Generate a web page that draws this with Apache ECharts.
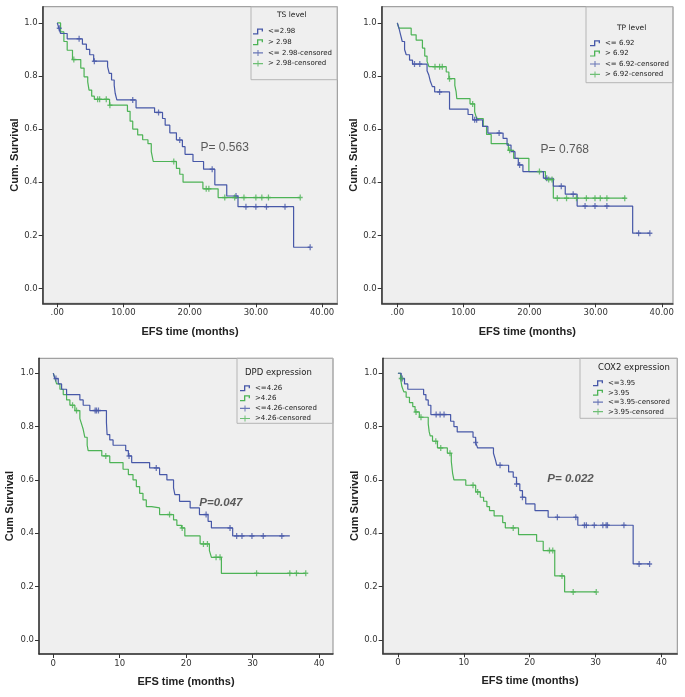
<!DOCTYPE html>
<html><head><meta charset="utf-8">
<script src="https://cdn.jsdelivr.net/npm/echarts@6/dist/echarts.min.js"></script>
<style>html,body{margin:0;padding:0;background:#fff}#c{width:685px;height:697px}</style>
</head><body><div id="c"></div>
<script>
// ---------- tick values ----------
const xTicks = [0, 10, 20, 30, 40];
const yTicks = [0, 0.2, 0.4, 0.6, 0.8, 1.0];

// ---------- Panel 1: TS level ----------
const tsLowSteps = [[0,1.0],[0.25,0.98],[0.5,0.96],[1.5,0.94],[3.8,0.92],[4.4,0.90],[4.9,0.88],[5.5,0.856],[7.6,0.835],[7.85,0.81],[8.2,0.785],[8.6,0.765],[8.75,0.735],[9.0,0.71],[11.9,0.68],[14.7,0.663],[15.9,0.64],[16.3,0.615],[17.0,0.586],[18.0,0.559],[18.9,0.534],[19.3,0.505],[20.5,0.478],[22.1,0.449],[23.8,0.39],[25.6,0.348],[27.3,0.308],[35.7,0.155],[38.2,0.155]];
const tsHighSteps = [[0,1.0],[0.5,0.966],[1.0,0.93],[1.5,0.897],[2.3,0.862],[3.55,0.83],[4.05,0.797],[4.6,0.778],[4.8,0.747],[5.2,0.724],[5.6,0.712],[7.9,0.69],[10.6,0.667],[11.0,0.63],[11.4,0.60],[12.15,0.578],[12.9,0.56],[13.7,0.545],[14.2,0.515],[14.5,0.478],[18.0,0.452],[18.5,0.43],[19.0,0.40],[22.0,0.375],[24.3,0.342],[36.7,0.342]];
const tsLowCens = [[0.3,0.98],[3.3,0.94],[5.6,0.856],[11.4,0.71],[15.3,0.663],[18.5,0.559],[23.4,0.449],[27.0,0.348],[28.5,0.308],[30.0,0.308],[31.6,0.308],[34.4,0.308],[38.2,0.155]];
const tsHighCens = [[2.5,0.862],[6.1,0.712],[6.4,0.712],[7.4,0.712],[7.95,0.69],[17.6,0.478],[22.5,0.375],[22.9,0.375],[25.3,0.342],[26.8,0.342],[28.2,0.342],[30.0,0.342],[30.9,0.342],[31.9,0.342],[36.7,0.342]];

// ---------- Panel 2: TP level ----------
const tpLowSteps = [[0,1.0],[0.25,0.98],[0.5,0.955],[0.75,0.93],[1.1,0.90],[1.35,0.88],[1.85,0.86],[2.3,0.845],[4.5,0.82],[4.75,0.805],[5.0,0.78],[5.3,0.76],[5.65,0.74],[7.9,0.675],[10.7,0.655],[11.4,0.635],[12.9,0.61],[13.7,0.585],[16.0,0.565],[16.6,0.54],[17.2,0.515],[17.8,0.49],[18.3,0.465],[19.0,0.44],[22.1,0.415],[23.6,0.385],[25.4,0.355],[27.2,0.31],[35.6,0.208],[38.2,0.208]];
const tpHighSteps = [[0,1.0],[0.25,0.98],[2.1,0.955],[2.85,0.935],[3.8,0.905],[4.15,0.875],[4.5,0.855],[4.8,0.835],[7.4,0.815],[7.8,0.79],[8.7,0.765],[8.9,0.74],[9.0,0.715],[11.0,0.695],[11.7,0.665],[12.0,0.64],[13.0,0.61],[13.5,0.58],[14.2,0.545],[16.8,0.52],[17.6,0.49],[19.9,0.44],[22.4,0.41],[23.6,0.34],[34.5,0.34]];
const tpLowCens = [[2.6,0.845],[3.4,0.845],[6.4,0.74],[11.7,0.635],[12.0,0.635],[15.4,0.585],[18.5,0.465],[22.6,0.415],[24.8,0.385],[26.6,0.355],[28.4,0.31],[29.9,0.31],[31.7,0.31],[36.5,0.208],[38.2,0.208]];
const tpHighCens = [[5.7,0.835],[6.4,0.835],[6.8,0.835],[7.9,0.79],[11.4,0.695],[17.0,0.52],[21.5,0.44],[22.9,0.41],[23.4,0.41],[24.2,0.34],[25.6,0.34],[27.1,0.34],[28.6,0.34],[29.9,0.34],[30.7,0.34],[31.7,0.34],[34.4,0.34]];

// ---------- Panel 3: DPD expression ----------
const dpdLowSteps = [[0,1.0],[0.25,0.98],[0.75,0.96],[1.25,0.94],[2.0,0.92],[4.0,0.90],[4.5,0.88],[5.5,0.86],[8.0,0.815],[8.1,0.77],[8.5,0.75],[9.0,0.73],[10.9,0.71],[11.3,0.69],[11.8,0.665],[14.5,0.645],[16.0,0.62],[17.1,0.60],[18.1,0.57],[18.3,0.545],[19.0,0.52],[20.6,0.495],[22.0,0.47],[23.3,0.445],[23.8,0.42],[27.0,0.39],[35.6,0.39]];
const dpdHighSteps = [[0,1.0],[0.25,0.98],[0.5,0.96],[1.0,0.94],[1.5,0.92],[2.0,0.90],[2.5,0.88],[3.25,0.86],[4.0,0.83],[4.25,0.81],[4.5,0.79],[4.75,0.76],[5.1,0.73],[5.25,0.71],[7.3,0.69],[8.5,0.665],[10.5,0.64],[11.3,0.62],[12.0,0.60],[12.5,0.575],[13.0,0.55],[13.5,0.525],[14.0,0.50],[14.8,0.495],[16.0,0.47],[18.1,0.45],[18.6,0.43],[19.3,0.42],[19.8,0.39],[22.1,0.36],[23.5,0.335],[23.8,0.31],[25.3,0.25],[38.0,0.25]];
const dpdLowCens = [[0.4,0.98],[6.3,0.86],[6.5,0.86],[6.8,0.86],[11.4,0.69],[15.5,0.645],[23.0,0.47],[26.6,0.42],[27.6,0.39],[28.4,0.39],[29.9,0.39],[31.6,0.39],[34.4,0.39]];
const dpdHighCens = [[2.9,0.88],[3.5,0.86],[7.9,0.69],[17.5,0.47],[19.4,0.42],[22.6,0.36],[23.2,0.36],[24.5,0.31],[25.1,0.31],[30.6,0.25],[35.6,0.25],[36.6,0.25],[38.0,0.25]];

// ---------- Panel 4: COX2 expression ----------
const coxLowSteps = [[0,1.0],[0.5,0.98],[1.0,0.96],[1.5,0.94],[3.9,0.92],[4.25,0.90],[4.6,0.88],[5.0,0.845],[8.0,0.82],[8.5,0.80],[9.0,0.78],[11.4,0.76],[11.8,0.74],[12.1,0.72],[14.5,0.70],[14.8,0.675],[15.0,0.655],[16.8,0.63],[17.5,0.61],[18.0,0.585],[18.5,0.56],[18.9,0.535],[19.4,0.51],[20.8,0.485],[22.8,0.46],[27.3,0.43],[35.7,0.285],[38.2,0.285]];
const coxHighSteps = [[0,1.0],[0.4,0.98],[0.6,0.95],[0.9,0.93],[1.25,0.91],[1.75,0.89],[2.25,0.875],[2.6,0.855],[3.25,0.835],[4.6,0.81],[4.75,0.78],[4.9,0.765],[5.25,0.745],[6.0,0.72],[7.5,0.70],[8.1,0.67],[8.3,0.625],[8.5,0.60],[10.3,0.58],[11.8,0.555],[12.5,0.535],[13.0,0.52],[13.5,0.50],[13.9,0.485],[14.6,0.465],[15.9,0.44],[16.3,0.42],[18.3,0.395],[21.05,0.37],[22.05,0.335],[23.8,0.24],[25.3,0.18],[30.1,0.18]];
const coxLowCens = [[0.65,0.98],[5.8,0.845],[6.4,0.845],[7.0,0.845],[11.8,0.74],[15.5,0.655],[18.0,0.585],[18.9,0.535],[24.2,0.46],[27.0,0.46],[28.3,0.43],[28.6,0.43],[29.8,0.43],[31.1,0.43],[31.6,0.43],[31.8,0.43],[34.3,0.43],[36.6,0.285],[38.2,0.285]];
const coxHighCens = [[0.5,0.98],[2.75,0.855],[3.5,0.835],[5.75,0.745],[6.5,0.72],[7.9,0.70],[11.4,0.58],[12.1,0.555],[17.5,0.42],[23.0,0.335],[23.5,0.335],[24.9,0.24],[26.6,0.18],[30.1,0.18]];

// ---------- texts ----------
const legendTitles = ['TS level', 'TP level', 'DPD expression', 'COX2 expression'];
const groupLabels = [
  ['<=2.98', '> 2.98', '<= 2.98-censored', '> 2.98-censored'],
  ['<= 6.92', '> 6.92', '<= 6.92-censored', '> 6.92-censored'],
  ['<=4.26', '>4.26', '<=4.26-censored', '>4.26-censored'],
  ['<=3.95', '>3.95', '<=3.95-censored', '>3.95-censored']
];
const pTexts = ['P= 0.563', 'P= 0.768', 'P=0.047', 'P= 0.022'];
const pAnchors = [[21.55, 0.529], [21.6, 0.522], [21.9, 0.514], [22.6, 0.604]];
const yTitles = ['Cum. Survival', 'Cum. Survival', 'Cum Survival', 'Cum Survival'];
const xTitle = 'EFS time (months)';

const panelData = [
  [tsLowSteps, tsHighSteps, tsLowCens, tsHighCens],
  [tpLowSteps, tpHighSteps, tpLowCens, tpHighCens],
  [dpdLowSteps, dpdHighSteps, dpdLowCens, dpdHighCens],
  [coxLowSteps, coxHighSteps, coxLowCens, coxHighCens]
];

// ---------- layout / style ----------
const BLUE = '#4758a8', GREEN = '#4db356';
const PLUS = 'path://M0,2.25 L6,2.25 L6,3.75 L0,3.75 Z M2.25,0 L3.75,0 L3.75,6 L2.25,6 Z';
const STEP_ICON = 'path://M0,8 L6,8 L6,0 L15,0 L15,5 L13,5 L13,2 L8,2 L8,10 L0,10 Z';
const PLUS_ICON = 'path://M0,4 L20,4 L20,6 L0,6 Z M9,0 L11,0 L11,10 L9,10 Z';

const layout = [
  {grid:{left:42.7, top:6.7, width:294.6, height:296.6}, x:[-2.2, 42.3], y:[-0.056, 1.061], dec:true, yGap:22.5, xGap:23,
   legend:{left:253, top:28, gap:3.7}, head:{left:277, top:11}, box:[251, 6.7, 86.3, 73], pBold:false},
  {grid:{left:381.7, top:6.7, width:291.3, height:296.6}, x:[-2.36, 41.7], y:[-0.056, 1.061], dec:true, yGap:22, xGap:23,
   legend:{left:590, top:39.7, gap:3.4}, head:{left:617, top:24}, box:[586, 6.7, 87, 76], pBold:false},
  {grid:{left:39, top:358.3, width:294, height:295.7}, x:[-2.15, 42.1], y:[-0.0525, 1.056], dec:false, yGap:23.7, xGap:22.5,
   legend:{left:240, top:384.7, gap:3.1}, head:{left:245, top:368}, box:[237, 358.3, 96, 65], pBold:true},
  {grid:{left:382.7, top:358.3, width:294.6, height:295}, x:[-2.31, 42.4], y:[-0.05, 1.056], dec:false, yGap:22.4, xGap:22.5,
   legend:{left:593, top:379.7, gap:2.5}, head:{left:598, top:363.5}, box:[580, 358.3, 97.3, 60], pBold:true}
];

const grids = [], xAxes = [], yAxes = [], series = [], legends = [], titles = [], graphics = [];
const axisFont = {fontSize:8.5, fontFamily:'DejaVu Sans', color:'#333'};
const nameFont = {fontSize:11, fontWeight:'bold', fontFamily:'Liberation Sans', color:'#222'};

layout.forEach((L, i) => {
  grids.push(Object.assign({show:true, backgroundColor:'#efefef', borderColor:'#8c8c8c', borderWidth:1, containLabel:false}, L.grid));
  xAxes.push({
    gridIndex:i, type:'value', min:L.x[0], max:L.x[1],
    axisLine:{show:true, onZero:false, lineStyle:{color:'#333', width:1.5}},
    axisTick:{show:true, customValues:xTicks, length:4, lineStyle:{color:'#333', width:1}},
    axisLabel:Object.assign({customValues:xTicks, margin:5,
      formatter: v => L.dec ? (v === 0 ? '.00' : v.toFixed(2)) : String(v)}, axisFont),
    splitLine:{show:false},
    name:xTitle, nameLocation:'middle', nameGap:L.xGap, nameTextStyle:nameFont
  });
  yAxes.push({
    gridIndex:i, type:'value', min:L.y[0], max:L.y[1],
    axisLine:{show:true, onZero:false, lineStyle:{color:'#333', width:1.5}},
    axisTick:{show:true, customValues:yTicks, length:4, lineStyle:{color:'#333', width:1}},
    axisLabel:Object.assign({customValues:yTicks, margin:5, formatter: v => v.toFixed(1)}, axisFont),
    splitLine:{show:false},
    name:yTitles[i], nameLocation:'middle', nameGap:L.yGap, nameTextStyle:nameFont
  });
  const d = panelData[i], lab = groupLabels[i];
  series.push({type:'line', name:lab[0], xAxisIndex:i, yAxisIndex:i, data:d[0], step:'end', symbol:'none', showSymbol:false,
    lineStyle:{color:BLUE, width:1.2}, itemStyle:{color:BLUE}, silent:true, z:3});
  series.push({type:'line', name:lab[1], xAxisIndex:i, yAxisIndex:i, data:d[1], step:'end', symbol:'none', showSymbol:false,
    lineStyle:{color:GREEN, width:1.2}, itemStyle:{color:GREEN}, silent:true, z:2});
  series.push({type:'scatter', name:lab[2], xAxisIndex:i, yAxisIndex:i, data:d[2], symbol:PLUS, symbolSize:[5,6],
    symbolKeepAspect:false, itemStyle:{color:BLUE}, silent:true, z:4});
  series.push({type:'scatter', name:lab[3], xAxisIndex:i, yAxisIndex:i, data:d[3], symbol:PLUS, symbolSize:[5,6],
    symbolKeepAspect:false, itemStyle:{color:GREEN}, silent:true, z:4});
  series.push({type:'scatter', name:'p' + i, xAxisIndex:i, yAxisIndex:i, data:[pAnchors[i]], symbolSize:1,
    itemStyle:{color:'rgba(0,0,0,0)'}, silent:true, z:5,
    label:{show:true, position:'right', distance:0, formatter:pTexts[i], color:'#333', fontSize: L.pBold ? 11.5 : 12,
      fontFamily:'Liberation Sans', fontWeight: L.pBold ? 'bold' : 'normal', fontStyle: L.pBold ? 'italic' : 'normal'}});
  legends.push({
    orient:'vertical', left:L.legend.left, top:L.legend.top, padding:0, itemWidth:10, itemHeight:6, itemGap:L.legend.gap,
    symbolKeepAspect:false, selectedMode:false, itemStyle:{borderWidth:0},
    data:[{name:lab[0], icon:STEP_ICON}, {name:lab[1], icon:STEP_ICON}, {name:lab[2], icon:PLUS_ICON}, {name:lab[3], icon:PLUS_ICON}],
    textStyle:{fontSize:7, fontFamily:'DejaVu Sans', color:'#222'}
  });
  titles.push({text:legendTitles[i], left:L.head.left, top:L.head.top, padding:0,
    textStyle:{fontSize: i < 2 ? 7.5 : 8.5, fontWeight:'normal', fontFamily:'DejaVu Sans', color:'#222'}});
  graphics.push({type:'rect', silent:true, z:1, shape:{x:L.box[0], y:L.box[1], width:L.box[2], height:L.box[3]},
    style:{fill:'none', stroke:'#b5b5b5', lineWidth:1}});
});

const chart = echarts.init(document.getElementById('c'));
chart.setOption({
  animation:false,
  backgroundColor:'#ffffff',
  title:titles,
  legend:legends,
  grid:grids,
  xAxis:xAxes,
  yAxis:yAxes,
  series:series,
  graphic:graphics
});
</script>
</body></html>
